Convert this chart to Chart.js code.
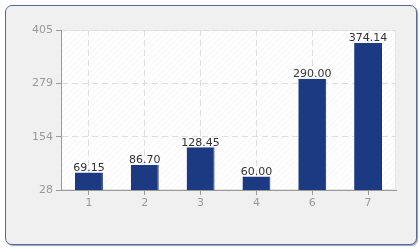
<!DOCTYPE html>
<html lang="en">
<head>
  <meta charset="UTF-8">
  <title>Bar chart</title>
  <script src="https://cdn.jsdelivr.net/npm/chart.js"></script>
  <style>
    body { margin: 0; background: #fff; }
    #frame {
      position: absolute; left: 5px; top: 5px; width: 410px; height: 238px;
      background: #f0f0f0; border: 1px solid #5a6894; border-radius: 7px;
      box-shadow: 1px 1px 1px #9aa4c0;
    }
    #chart { position: absolute; left: 0; top: 0; }
  </style>
</head>
<body>
  <div id="frame"></div>
  <canvas id="chart" width="420" height="250"></canvas>

  <script>
    // données
    const categories = ['1', '2', '3', '4', '6', '7'];
    const values = [69.15, 86.70, 128.45, 60.00, 290.00, 374.14];
    const yTicks = [28, 153.67, 279.33, 405];

    // fond hachuré de la zone de tracé
    const pc = document.createElement('canvas');
    pc.width = 6; pc.height = 6;
    const px = pc.getContext('2d');
    px.fillStyle = '#ffffff';
    px.fillRect(0, 0, 6, 6);
    px.strokeStyle = '#f3f3f3';
    px.lineWidth = 1;
    px.beginPath();
    px.moveTo(0, 6); px.lineTo(6, 0);
    px.stroke();

    const plotBg = {
      id: 'plotBg',
      beforeDraw(chart) {
        const { ctx, chartArea: a } = chart;
        ctx.save();
        ctx.fillStyle = ctx.createPattern(pc, 'repeat');
        ctx.fillRect(a.left, a.top, a.right - a.left, a.bottom - a.top);
        ctx.strokeStyle = '#e6e6e6';
        ctx.strokeRect(a.left + 0.5, a.top + 0.5, a.right - a.left - 1, a.bottom - a.top - 1);
        ctx.restore();
      }
    };

    const valueLabels = {
      id: 'valueLabels',
      afterDatasetsDraw(chart) {
        const { ctx } = chart;
        const meta = chart.getDatasetMeta(0);
        ctx.save();
        ctx.font = '11px "DejaVu Sans"';
        ctx.fillStyle = '#333';
        ctx.textAlign = 'center';
        ctx.textBaseline = 'bottom';
        meta.data.forEach((bar, i) => {
          ctx.fillText(values[i].toFixed(2), bar.x, bar.y + 1);
        });
        ctx.restore();
      }
    };

    new Chart(document.getElementById('chart'), {
      type: 'bar',
      data: {
        labels: categories,
        datasets: [{
          data: values,
          backgroundColor: '#1b3a82',
          borderColor: '#142c66',
          borderWidth: { right: 1 },
          barPercentage: 0.5,
          categoryPercentage: 1
        }]
      },
      options: {
        responsive: false,
        animation: false,
        layout: { padding: { left: 5, right: 24, top: 30, bottom: 0 } },
        plugins: { legend: { display: false }, tooltip: { enabled: false } },
        scales: {
          x: {
            grid: {
              offset: false, color: '#dddddd', tickColor: '#999', tickLength: 5, lineWidth: 1
            },
            border: { color: '#999', dash: [6, 4] },
            ticks: { color: '#999', font: { family: 'DejaVu Sans', size: 11 }, padding: 2 },
            afterFit(s) { s.height = 60; }
          },
          y: {
            min: 28, max: 405,
            afterBuildTicks(s) { s.ticks = yTicks.map(v => ({ value: v })); },
            grid: { color: '#dddddd', tickColor: '#999', tickLength: 5 },
            border: { color: '#999', dash: [6, 4] },
            ticks: {
              color: '#999', font: { family: 'DejaVu Sans', size: 11 }, padding: 3,
              callback: v => Math.round(v)
            },
            afterFit(s) { s.width = 56; }
          }
        }
      },
      plugins: [plotBg, valueLabels]
    });
  </script>
</body>
</html>
